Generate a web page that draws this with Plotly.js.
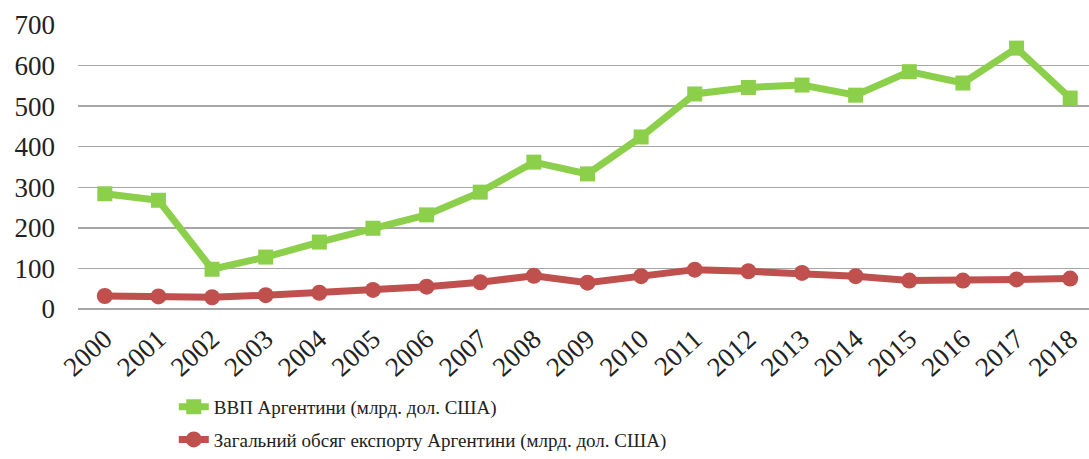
<!DOCTYPE html>
<html>
<head>
<meta charset="utf-8">
<script src="https://cdn.plot.ly/plotly-3.0.1.min.js"></script>
<style>
html,body{margin:0;padding:0;overflow:hidden;background:#fff;}
#chart{width:1098px;height:459px;}
</style>
</head>
<body>
<div id="chart"></div>
<script>
const years = ['2000','2001','2002','2003','2004','2005','2006','2007','2008','2009','2010','2011','2012','2013','2014','2015','2016','2017','2018'];
const gdp = [284, 268, 98, 128, 165, 199, 232, 288, 362, 333, 424, 530, 546, 552, 527, 585, 557, 643, 520];
const exports = [32, 31, 29, 34, 40, 47, 55, 66, 82, 65, 81, 97, 93, 89, 81, 70, 70, 73, 75];
const gdpName = 'ВВП Аргентини (млрд. дол. США)';
const expName = 'Загальний обсяг експорту Аргентини (млрд. дол. США)';
const yTicks = [0, 100, 200, 300, 400, 500, 600, 700];

const traces = [
  {x: years, y: gdp, name: gdpName, legendgroup: 'g1', type: 'scatter', mode: 'lines+markers',
   line: {color: '#8ccf4a', width: 7}, marker: {symbol: 'square', size: 15, color: '#8ccf4a'}},
  {x: years, y: exports, name: expName, legendgroup: 'g2', type: 'scatter', mode: 'lines+markers',
   line: {color: '#c0504d', width: 7}, marker: {symbol: 'circle', size: 16, color: '#c0504d'}}
];

const layout = {
  width: 1098, height: 459,
  margin: {l: 78, r: 1, t: 25, b: 150, autoexpand: false},
  paper_bgcolor: '#fff', plot_bgcolor: '#fff',
  font: {family: 'Liberation Serif, Times New Roman, serif', color: '#222'},
  showlegend: true,
  xaxis: {type: 'category', range: [-0.5, 18.5], tickangle: -42, automargin: false,
          tickfont: {size: 27}, showgrid: false, zeroline: false,
          showline: false, ticks: '', ticklabelstandoff: 8},
  yaxis: {range: [0, 700], tickvals: yTicks, tickfont: {size: 27}, automargin: false,
          showgrid: true, gridcolor: '#a6a6a6', gridwidth: 1.5,
          zeroline: true, zerolinecolor: '#a6a6a6', zerolinewidth: 1.5,
          showline: false, ticks: '', ticklabelstandoff: 22},
  legend: {x: 0.094, y: 0.155, yref: 'container', xanchor: 'left', yanchor: 'top', orientation: 'v',
           font: {size: 19}, bgcolor: 'rgba(0,0,0,0)', tracegroupgap: 5}
};

Plotly.newPlot('chart', traces, layout, {displayModeBar: false, staticPlot: true});
</script>
</body>
</html>
